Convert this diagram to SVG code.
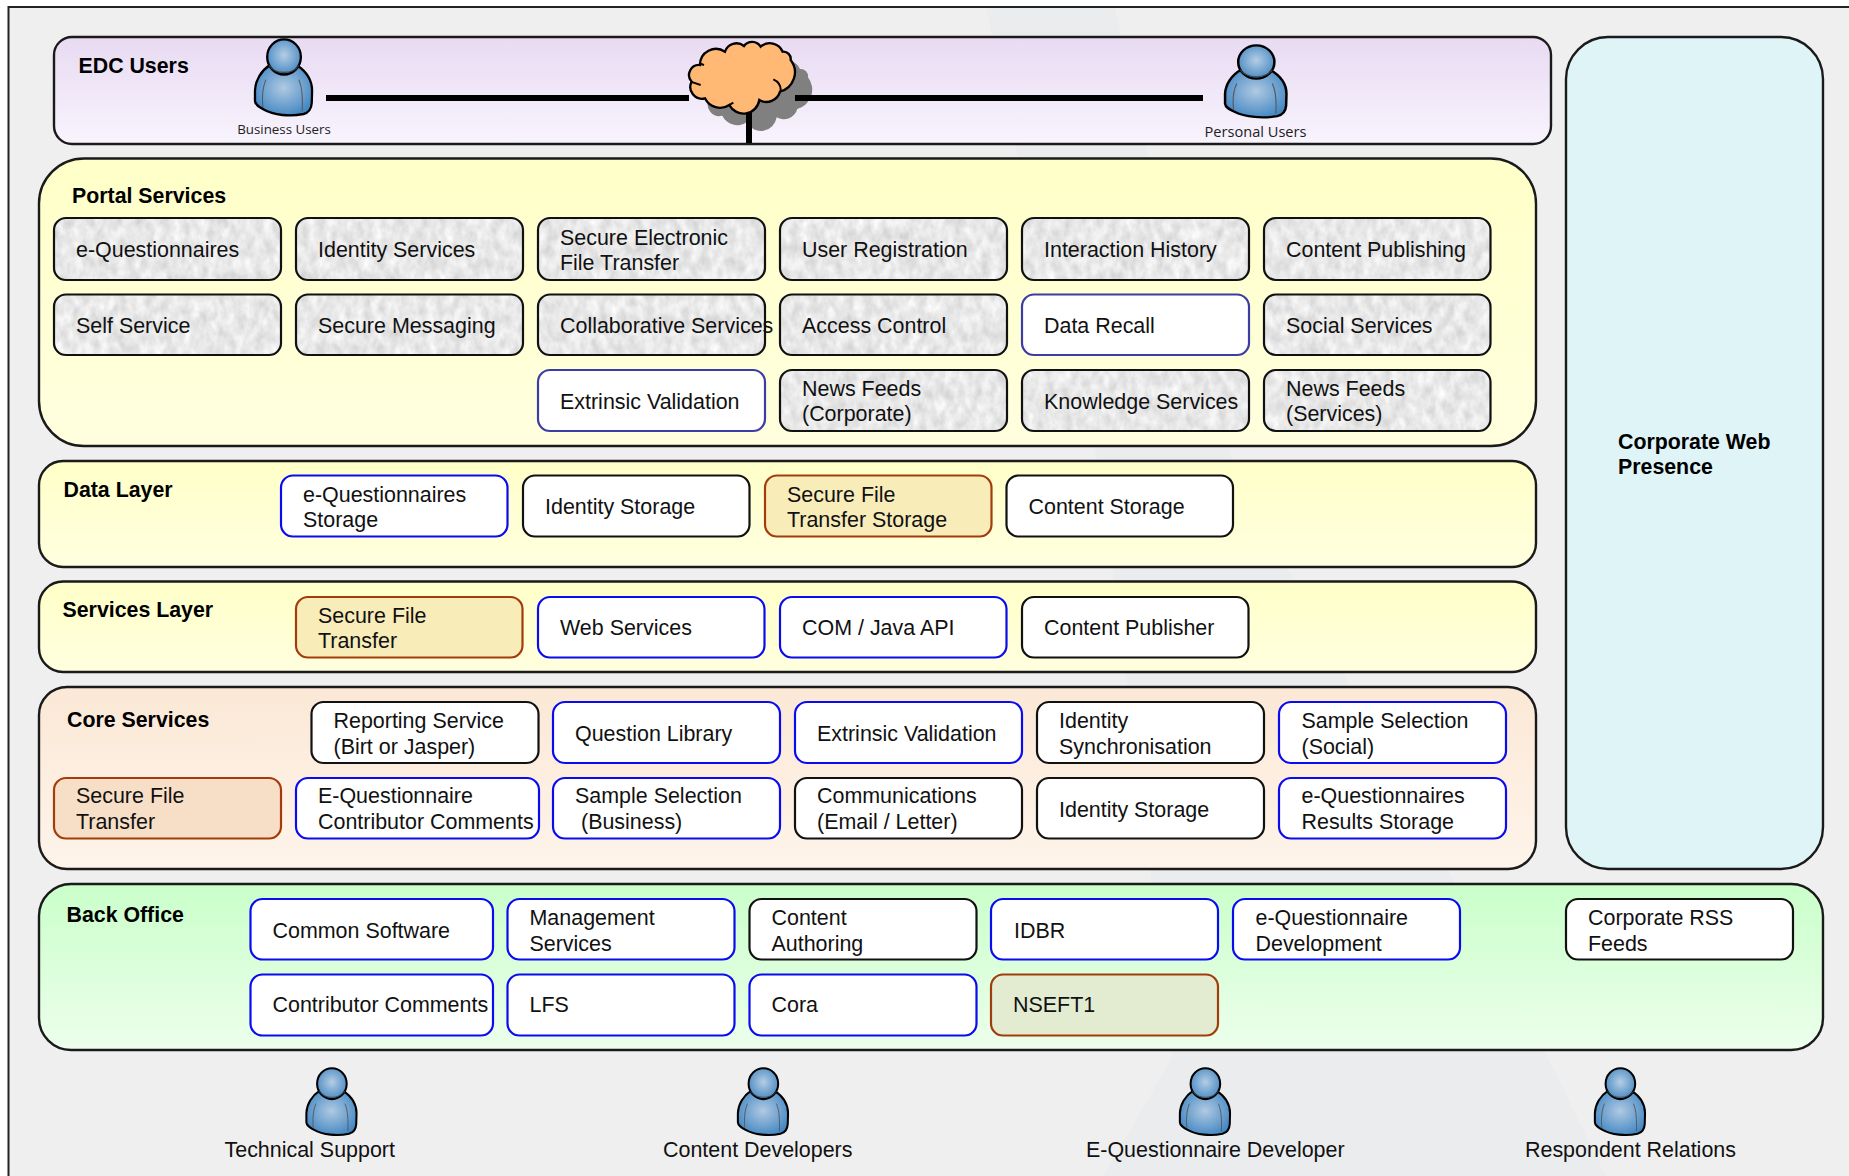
<svg xmlns="http://www.w3.org/2000/svg" width="1849" height="1176" viewBox="0 0 1849 1176">
<style>
text{font-family:"Liberation Sans",Arial,sans-serif;font-size:21.45px;fill:#111}
.h{font-weight:bold;fill:#000;font-size:21.33px}
.s{font-family:"Open Sans","DejaVu Sans",sans-serif;font-size:13.3px;fill:#222}
.p{stroke:#1a1a1a;stroke-width:2.4}
.n{stroke-width:2.2}
.k{stroke:#111;fill:#fff}
.b{stroke:#0b0bf0;fill:#fff}
.m{stroke:#3c3ca6;fill:#fff}
.o{stroke:#a33c0c}
.t{stroke:#111;fill:none}
.c{stroke:#000;stroke-width:6;fill:none}
</style>
<defs>
<linearGradient id="gEdc" x1="0" y1="0" x2="0" y2="1"><stop offset="0" stop-color="#e8daf2"/><stop offset="1" stop-color="#f8f4fd"/></linearGradient>
<linearGradient id="gYel" x1="0" y1="0" x2="0" y2="1"><stop offset="0" stop-color="#ffffc8"/><stop offset="1" stop-color="#ffffdf"/></linearGradient>
<linearGradient id="gCore" x1="0" y1="0" x2="0" y2="1"><stop offset="0" stop-color="#fbe8d6"/><stop offset="1" stop-color="#fef4ea"/></linearGradient>
<linearGradient id="gBack" x1="0" y1="0" x2="0" y2="1"><stop offset="0" stop-color="#caffca"/><stop offset="1" stop-color="#ecffec"/></linearGradient>
<radialGradient id="gHead" cx=".5" cy=".45" r=".55"><stop offset="0" stop-color="#b5cde4"/><stop offset="1" stop-color="#4c8cc4"/></radialGradient>
<radialGradient id="gBody" cx=".5" cy=".45" r=".6"><stop offset="0" stop-color="#b0c9e2"/><stop offset="1" stop-color="#4186c2"/></radialGradient>
<filter id="stone" x="0" y="0" width="1" height="1" color-interpolation-filters="sRGB">
<feTurbulence type="fractalNoise" baseFrequency=".11 .07" numOctaves="3" seed="7"/>
<feColorMatrix values=".22 0 0 0 .8 .22 0 0 0 .8 .22 0 0 0 .8 0 0 0 0 1"/>
<feComposite in2="SourceGraphic" operator="in"/>
</filter>
<g id="person">
<path d="M48 76C22 92 4 120 3 150L3 180C4 192 16 198 28 204C60 222 110 226 150 218C166 214 174 200 175 186L176 150C176 120 160 95 130 76Z" fill="url(#gBody)" stroke="#000" stroke-width="7"/>
<path d="M36 118C26 140 24 170 27 198M136 118C146 140 148 175 146 210" fill="none" stroke="#555" stroke-width="3"/>
<circle cx="91" cy="52" r="51" fill="url(#gHead)" stroke="#000" stroke-width="7"/>
<path d="M46 76C62 104 120 104 136 76" fill="none" stroke="#444" stroke-width="3"/>
</g>
<path id="cloud" d="M90 105A48 48 0 0 1 165 65A36 36 0 0 1 222 48A30 30 0 0 1 272 50A42 42 0 0 1 338 65A22 22 0 0 1 362 90A60 60 0 0 1 330 185A42 42 0 0 1 268 210A48 48 0 0 1 178 225A50 50 0 0 1 105 205A35 35 0 0 1 65 155A30 30 0 0 1 90 105Z"/>
</defs>
<rect id="frame" x="8.500" y="7" width="1900" height="1300" fill="#efefef" stroke="#222" stroke-width="2"/>
<polygon points="986,8 1115,8 1147,152 1235,470 1547,1056 1606,1176 1103,1176 1173,1056 1100,470 1017,152" fill="#ebecee"/>

<g id="edc-users"><rect class="p" x="54" y="37" width="1497" height="107" rx="18" fill="url(#gEdc)"/><text class="h" x="78.500" y="73">EDC Users</text></g>
<g id="portal-services"><rect class="p" x="39" y="158.500" width="1497" height="287.500" rx="45" fill="url(#gYel)"/><text class="h" x="72" y="203">Portal Services</text></g>
<g id="data-layer"><rect class="p" x="39" y="461" width="1497" height="106" rx="24" fill="url(#gYel)"/><text class="h" x="63.500" y="497">Data Layer</text></g>
<g id="services-layer"><rect class="p" x="39" y="581.500" width="1497" height="90.500" rx="24" fill="url(#gYel)"/><text class="h" x="62.500" y="617">Services Layer</text></g>
<g id="core-services"><rect class="p" x="39" y="687" width="1497" height="182" rx="28" fill="url(#gCore)"/><text class="h" x="67" y="726.500">Core Services</text></g>
<g id="back-office"><rect class="p" x="39" y="884" width="1784" height="166" rx="32" fill="url(#gBack)"/><text class="h" x="66.500" y="922">Back Office</text></g>
<g id="corporate-web"><rect class="p" x="1566" y="37" width="257" height="832" rx="42" fill="#dff4f7"/><text class="h" x="1618" y="449">Corporate Web</text><text class="h" x="1618" y="474">Presence</text></g>

<g id="cloud-node" transform="translate(670 30) scale(.3333)">
<use href="#cloud" x="52" y="52" fill="#808080"/>
<use href="#cloud" fill="#ffb974" stroke="#000" stroke-width="7"/>
<path d="M88 100L102 105M62 155L92 165M310 148C326 155 334 168 332 186M178 225L190 218" fill="none" stroke="#000" stroke-width="6"/>
</g>

<g id="connectors">
<path class="c" d="M326 98H689"/>
<path class="c" d="M795 98H1203"/>
<path class="c" d="M749 113V143"/>
</g>

<g id="business-users"><use href="#person" transform="translate(254 39) scale(.33 .344)"/><text class="s" x="284" y="134" text-anchor="middle">Business Users</text></g>
<g id="personal-users"><use href="#person" transform="translate(1224 45) scale(.355 .326)"/><text class="s" style="font-size:14.6px" x="1255.500" y="136.500" text-anchor="middle">Personal Users</text></g>

<g id="p1"><rect x="54" y="218" width="227" height="62" rx="12" filter="url(#stone)"/><rect class="n t" x="54" y="218" width="227" height="62" rx="12"/><text x="76" y="257">e-Questionnaires</text></g>
<g id="p2"><rect x="296" y="218" width="227" height="62" rx="12" filter="url(#stone)"/><rect class="n t" x="296" y="218" width="227" height="62" rx="12"/><text x="318" y="257">Identity Services</text></g>
<g id="p3"><rect x="538" y="218" width="227" height="62" rx="12" filter="url(#stone)"/><rect class="n t" x="538" y="218" width="227" height="62" rx="12"/><text x="560" y="245">Secure Electronic</text><text x="560" y="270">File Transfer</text></g>
<g id="p4"><rect x="780" y="218" width="227" height="62" rx="12" filter="url(#stone)"/><rect class="n t" x="780" y="218" width="227" height="62" rx="12"/><text x="802" y="257">User Registration</text></g>
<g id="p5"><rect x="1022" y="218" width="227" height="62" rx="12" filter="url(#stone)"/><rect class="n t" x="1022" y="218" width="227" height="62" rx="12"/><text x="1044" y="257">Interaction History</text></g>
<g id="p6"><rect x="1264" y="218" width="226.500" height="62" rx="12" filter="url(#stone)"/><rect class="n t" x="1264" y="218" width="226.500" height="62" rx="12"/><text x="1286" y="257">Content Publishing</text></g>

<g id="p7"><rect x="54" y="294.500" width="227" height="60.500" rx="12" filter="url(#stone)"/><rect class="n t" x="54" y="294.500" width="227" height="60.500" rx="12"/><text x="76" y="333">Self Service</text></g>
<g id="p8"><rect x="296" y="294.500" width="227" height="60.500" rx="12" filter="url(#stone)"/><rect class="n t" x="296" y="294.500" width="227" height="60.500" rx="12"/><text x="318" y="333">Secure Messaging</text></g>
<g id="p9"><rect x="538" y="294.500" width="227" height="60.500" rx="12" filter="url(#stone)"/><rect class="n t" x="538" y="294.500" width="227" height="60.500" rx="12"/><text x="560" y="333">Collaborative Services</text></g>
<g id="p10"><rect x="780" y="294.500" width="227" height="60.500" rx="12" filter="url(#stone)"/><rect class="n t" x="780" y="294.500" width="227" height="60.500" rx="12"/><text x="802" y="333">Access Control</text></g>
<g id="p11"><rect class="n m" x="1022" y="294.500" width="227" height="60.500" rx="12"/><text x="1044" y="333">Data Recall</text></g>
<g id="p12"><rect x="1264" y="294.500" width="226.500" height="60.500" rx="12" filter="url(#stone)"/><rect class="n t" x="1264" y="294.500" width="226.500" height="60.500" rx="12"/><text x="1286" y="333">Social Services</text></g>

<g id="p13"><rect class="n m" x="538" y="370" width="227" height="61" rx="12"/><text x="560" y="409">Extrinsic Validation</text></g>
<g id="p14"><rect x="780" y="370" width="227" height="61" rx="12" filter="url(#stone)"/><rect class="n t" x="780" y="370" width="227" height="61" rx="12"/><text x="802" y="396">News Feeds</text><text x="802" y="421">(Corporate)</text></g>
<g id="p15"><rect x="1022" y="370" width="227" height="61" rx="12" filter="url(#stone)"/><rect class="n t" x="1022" y="370" width="227" height="61" rx="12"/><text x="1044" y="409">Knowledge Services</text></g>
<g id="p16"><rect x="1264" y="370" width="226.500" height="61" rx="12" filter="url(#stone)"/><rect class="n t" x="1264" y="370" width="226.500" height="61" rx="12"/><text x="1286" y="396">News Feeds</text><text x="1286" y="421">(Services)</text></g>

<g id="d1"><rect class="n b" x="281" y="475.500" width="226.500" height="61" rx="12"/><text x="303" y="502">e-Questionnaires</text><text x="303" y="527">Storage</text></g>
<g id="d2"><rect class="n k" x="523" y="475.500" width="226.500" height="61" rx="12"/><text x="545" y="514">Identity Storage</text></g>
<g id="d3"><rect class="n o" fill="#f8ecb9" x="765" y="475.500" width="226.500" height="61" rx="12"/><text x="787" y="502">Secure File</text><text x="787" y="527">Transfer Storage</text></g>
<g id="d4"><rect class="n k" x="1006.500" y="475.500" width="226.500" height="61" rx="12"/><text x="1028.500" y="514">Content Storage</text></g>

<g id="s1"><rect class="n o" fill="#f8ecb9" x="296" y="597" width="226.500" height="60.500" rx="12"/><text x="318" y="622.500">Secure File</text><text x="318" y="648">Transfer</text></g>
<g id="s2"><rect class="n b" x="538" y="597" width="226.500" height="60.500" rx="12"/><text x="560" y="635">Web Services</text></g>
<g id="s3"><rect class="n b" x="780" y="597" width="226.500" height="60.500" rx="12"/><text x="802" y="635">COM / Java API</text></g>
<g id="s4"><rect class="n k" x="1022" y="597" width="226.500" height="60.500" rx="12"/><text x="1044" y="635">Content Publisher</text></g>

<g id="c1"><rect class="n k" x="311.500" y="702" width="227" height="61" rx="12"/><text x="333.500" y="727.500">Reporting Service</text><text x="333.500" y="754">(Birt or Jasper)</text></g>
<g id="c2"><rect class="n b" x="553" y="702" width="227" height="61" rx="12"/><text x="575" y="740.500">Question Library</text></g>
<g id="c3"><rect class="n b" x="795" y="702" width="227" height="61" rx="12"/><text x="817" y="740.500">Extrinsic Validation</text></g>
<g id="c4"><rect class="n k" x="1037" y="702" width="227" height="61" rx="12"/><text x="1059" y="727.500">Identity</text><text x="1059" y="754">Synchronisation</text></g>
<g id="c5"><rect class="n b" x="1279" y="702" width="227" height="61" rx="12"/><text x="1301.500" y="727.500">Sample Selection</text><text x="1301.500" y="754">(Social)</text></g>

<g id="c6"><rect class="n o" fill="#f7dfc7" x="54" y="778" width="227" height="60.500" rx="12"/><text x="76" y="803">Secure File</text><text x="76" y="829">Transfer</text></g>
<g id="c7"><rect class="n b" x="296" y="778" width="243" height="60.500" rx="12"/><text x="318" y="803">E-Questionnaire</text><text x="318" y="829">Contributor Comments</text></g>
<g id="c8"><rect class="n b" x="553" y="778" width="227" height="60.500" rx="12"/><text x="575" y="803">Sample Selection</text><text x="581" y="829">(Business)</text></g>
<g id="c9"><rect class="n k" x="795" y="778" width="227" height="60.500" rx="12"/><text x="817" y="803">Communications</text><text x="817" y="829">(Email / Letter)</text></g>
<g id="c10"><rect class="n k" x="1037" y="778" width="227" height="60.500" rx="12"/><text x="1059" y="816.500">Identity Storage</text></g>
<g id="c11"><rect class="n b" x="1279" y="778" width="227" height="60.500" rx="12"/><text x="1301.500" y="803">e-Questionnaires</text><text x="1301.500" y="829">Results Storage</text></g>

<g id="b1"><rect class="n b" x="250.500" y="899" width="242.500" height="60.500" rx="12"/><text x="272.500" y="937.500">Common Software</text></g>
<g id="b2"><rect class="n b" x="507.500" y="899" width="227" height="60.500" rx="12"/><text x="529.500" y="925">Management</text><text x="529.500" y="951">Services</text></g>
<g id="b3"><rect class="n k" x="749.500" y="899" width="227" height="60.500" rx="12"/><text x="771.500" y="925">Content</text><text x="771.500" y="951">Authoring</text></g>
<g id="b4"><rect class="n b" x="991" y="899" width="227" height="60.500" rx="12"/><text x="1014" y="937.500">IDBR</text></g>
<g id="b5"><rect class="n b" x="1233" y="899" width="227" height="60.500" rx="12"/><text x="1255.500" y="925">e-Questionnaire</text><text x="1255.500" y="951">Development</text></g>
<g id="b6"><rect class="n k" x="1566" y="899" width="227" height="60.500" rx="12"/><text x="1588" y="925">Corporate RSS</text><text x="1588" y="951">Feeds</text></g>
<g id="b7"><rect class="n b" x="250.500" y="974.500" width="242.500" height="61" rx="12"/><text x="272.500" y="1012">Contributor Comments</text></g>
<g id="b8"><rect class="n b" x="507.500" y="974.500" width="227" height="61" rx="12"/><text x="529.500" y="1012">LFS</text></g>
<g id="b9"><rect class="n b" x="749.500" y="974.500" width="227" height="61" rx="12"/><text x="771.500" y="1012">Cora</text></g>
<g id="b10"><rect class="n o" fill="#e3ecd0" x="991" y="974.500" width="227" height="61" rx="12"/><text x="1013" y="1012">NSEFT1</text></g>

<g id="technical-support"><use href="#person" transform="translate(305.500 1068) scale(.29 .302)"/><text x="224.500" y="1156.500">Technical Support</text></g>
<g id="content-developers"><use href="#person" transform="translate(737 1068) scale(.29 .302)"/><text x="663" y="1156.500">Content Developers</text></g>
<g id="eq-developer"><use href="#person" transform="translate(1179 1068) scale(.29 .302)"/><text x="1086" y="1156.500">E-Questionnaire Developer</text></g>
<g id="respondent-relations"><use href="#person" transform="translate(1594 1068) scale(.29 .302)"/><text x="1525" y="1156.500">Respondent Relations</text></g>
</svg>
